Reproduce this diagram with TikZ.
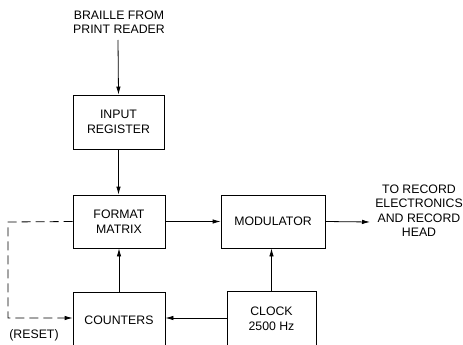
\documentclass[tikz,border=0pt]{standalone}
\usepackage{fontspec}
\setmainfont{Liberation Sans}
\usetikzlibrary{arrows.meta, positioning}
\tikzset{
  block/.style={draw, line width=0.8pt, align=center,
                minimum width=#1, minimum height=54pt, inner sep=2pt},
  block/.default=92pt,
  label/.style={align=center},
  flow/.style={line width=0.8pt, -{Latex[length=8pt, width=4.5pt]}},
  reset/.style={flow, dash pattern=on 9pt off 5pt},
}

\begin{document}
\begin{tikzpicture}[x=1pt, y=-1pt, font=\fontsize{12.3}{14.5}\selectfont]
  \clip (0,0) rectangle (463,345);
  % ================= top chain =================
  \node[label] (src) at (119,22) {BRAILLE FROM\\PRINT READER};
  \coordinate (srcend) at (118,40);
  \node[block=91pt] (input) at (118.5,122) {INPUT\\REGISTER};
  \node[block, minimum height=53pt] (format) at (119,221.5) {FORMAT\\MATRIX};
  \node[block=104pt, minimum height=53pt] (mod) at (273,221.5) {MODULATOR};
  \node[label] (out) at (419,210.5) {TO RECORD\\ELECTRONICS\\AND RECORD\\HEAD};
  % ================= bottom row =================
  \node[block, minimum height=56pt] (count) at (119,320) {COUNTERS};
  \node[block=89pt, minimum height=56pt] (clock) at (271.5,319) {CLOCK\\2500 Hz};
  \node[label] (rst) at (34,335) {(RESET)};
  \coordinate (outend) at (370,222);
  \coordinate (dashtop) at (8,222);
  \coordinate (dashbot) at (8,318);
  % connectors
  \draw[flow] (srcend) -- (input.north);
  \draw[flow] (input.south) -- (format.north -| input.south);
  \draw[flow] (format.east |- mod.west) -- (mod.west);
  \draw[flow] (mod.east) -- (outend);
  \draw[flow] (clock.north) -- (mod.south -| clock.north);
  \draw[flow] (clock.west |- dashbot) -- (count.east |- dashbot);
  \draw[flow] (count.north) -- (format.south);
  \draw[reset] (format.west) -- (dashtop) -- (dashbot) -- (count.west |- dashbot);
\end{tikzpicture}
\end{document}
